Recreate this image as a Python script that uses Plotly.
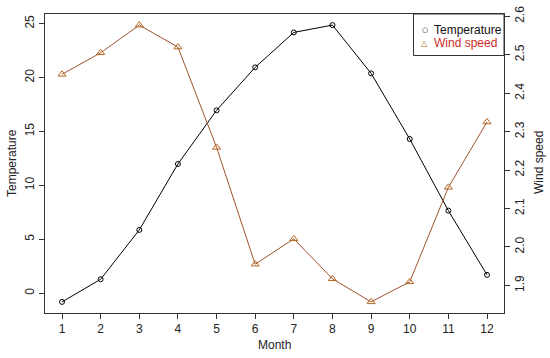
import plotly.graph_objects as go

months = list(range(1, 13))
temperature = [-0.82, 1.28, 5.86, 11.98, 16.96, 20.95, 24.19, 24.87, 20.39, 14.30, 7.65, 1.69]
wind_speed = [2.449, 2.505, 2.577, 2.520, 2.259, 1.955, 2.021, 1.917, 1.857, 1.909, 2.155, 2.325]
temp_ticks = [0, 5, 10, 15, 20, 25]
wind_ticks = [1.9, 2.0, 2.1, 2.2, 2.3, 2.4, 2.5, 2.6]

FONT = "Liberation Sans, Arial, sans-serif"
WIND_LINE = "#a0522d"
WIND_MARK = "#b5651d"
AXC = "#333333"
TXT = "#222222"

fig = go.Figure()
fig.add_trace(go.Scatter(
    x=months, y=temperature, mode="lines+markers", name="Temperature",
    line=dict(color="black", width=1),
    marker=dict(symbol="circle-open", size=5, color="black", line=dict(width=1)),
    showlegend=False, yaxis="y"))
fig.add_trace(go.Scatter(
    x=months, y=wind_speed, mode="lines+markers", name="Wind speed",
    line=dict(color=WIND_LINE, width=1),
    marker=dict(symbol="triangle-up-open", size=7, color=WIND_MARK, line=dict(width=1)),
    showlegend=False, yaxis="y2"))

tick_font = dict(family=FONT, size=12, color=TXT)

fig.update_layout(
    width=550, height=358,
    margin=dict(l=45, r=46, t=14, b=45, autoexpand=False),
    paper_bgcolor="white", plot_bgcolor="white",
    font=dict(family=FONT, size=12, color=TXT),
    xaxis=dict(range=[0.56, 12.44], tickvals=months, showgrid=False, zeroline=False,
               showline=True, mirror=True, linecolor=AXC, linewidth=1, automargin=False,
               ticks="outside", ticklen=5, tickcolor=AXC, tickfont=tick_font),
    yaxis=dict(range=[-1.85, 25.9], tickvals=temp_ticks, showgrid=False, zeroline=False,
               showline=True, mirror=True, linecolor=AXC, linewidth=1, automargin=False,
               ticks="outside", ticklen=5, tickcolor=AXC, tickangle=-90, tickfont=tick_font),
    yaxis2=dict(range=[1.828, 2.606], tickvals=wind_ticks, tickformat=".1f", overlaying="y",
                side="right", showgrid=False, zeroline=False, showline=True, linecolor=AXC,
                linewidth=1, automargin=False, ticks="outside", ticklen=5, tickcolor=AXC,
                tickangle=-90, tickfont=tick_font),
    showlegend=False,
)

PW, PH = 459.0, 299.0  # plot area size in px

def px(xp):
    return (xp - 45) / PW

def py(yp):
    return (313 - yp) / PH

def note(text, x, y, size=12, color=TXT, angle=0, family=FONT, xanchor="center"):
    fig.add_annotation(text=text, xref="paper", yref="paper", x=px(x), y=py(y),
                       xanchor=xanchor, yanchor="middle", textangle=angle, showarrow=False,
                       borderpad=0, font=dict(family=family, size=size, color=color))

# axis titles
note("Month", 274, 345)
note("Temperature", 12, 163, angle=-90)
note("Wind speed", 539, 163, angle=-90)

# legend box (R-style)
fig.add_shape(type="rect", xref="paper", yref="paper", x0=px(413.5), x1=1.0, y0=py(55.5), y1=1.0,
              line=dict(color=AXC, width=1), fillcolor="white")
note("○", 424.5, 30, size=7, color="black", family="DejaVu Sans")
note("Temperature", 433, 30, color="#111111", xanchor="left")
note("△", 424.5, 43, size=8, color=WIND_MARK, family="DejaVu Sans")
note("Wind speed", 433, 43, color="#cc2a2a", xanchor="left")

fig.write_html("out.html", config={"displayModeBar": False},
               post_script="document.body.style.margin='0';document.body.style.padding='0';")
